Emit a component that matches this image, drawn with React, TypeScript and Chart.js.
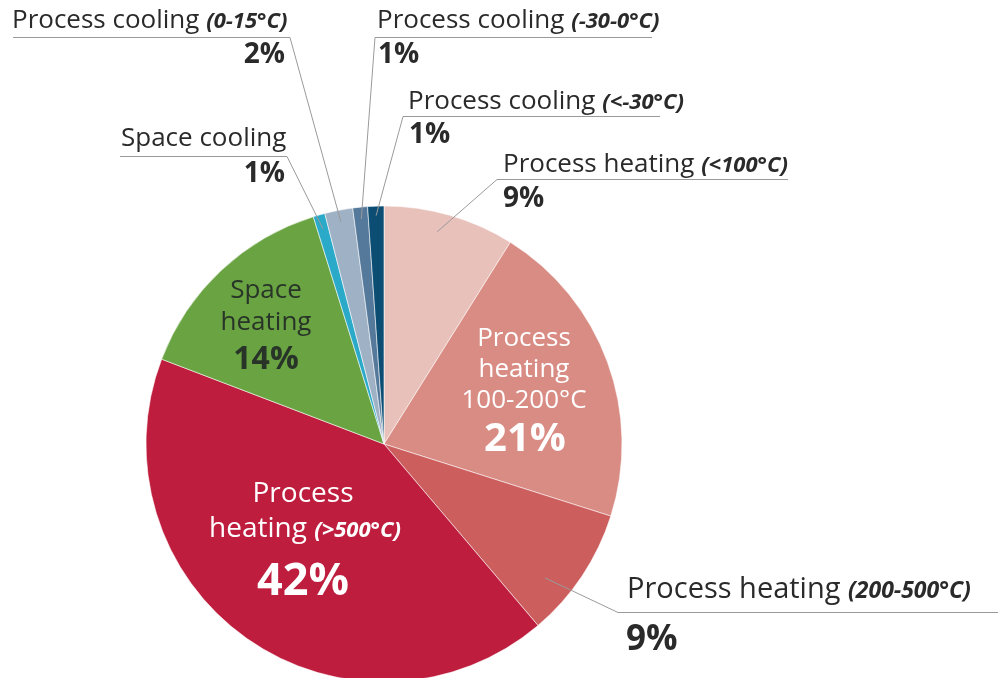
import React, { useEffect, useRef } from 'react';
import { Chart, registerables } from 'chart.js';

Chart.register(...registerables);

const categories = [
  'Process heating (<100°C)',
  'Process heating 100-200°C',
  'Process heating (200-500°C)',
  'Process heating (>500°C)',
  'Space heating',
  'Space cooling',
  'Process cooling (0-15°C)',
  'Process cooling (-30-0°C)',
  'Process cooling (<-30°C)',
];
const shares = [8.9, 21.0, 8.9, 42.0, 14.4, 0.8, 1.9, 1.0, 1.1];
const percentLabels = ['9%', '21%', '9%', '42%', '14%', '1%', '2%', '1%', '1%'];
const sliceColors = ['#e9c1bb', '#d98c84', '#cc5e5e', '#be1d3d', '#6aa442', '#2aa9c9', '#9fb1c5', '#55799b', '#0b4d73'];

const FF = '"Open Sans", sans-serif';
const reg = (s: number) => `${s}px ${FF}`;
const bold = (s: number) => `bold ${s}px ${FF}`;
const bi = (s: number) => `italic bold ${s}px ${FF}`;

type Seg = [string, string];

function drawRich(ctx: CanvasRenderingContext2D, segs: Seg[], x: number, y: number, align: 'left' | 'center' | 'right', color: string) {
  ctx.save();
  ctx.textBaseline = 'alphabetic';
  ctx.textAlign = 'left';
  ctx.fillStyle = color;
  let total = 0;
  const widths = segs.map(([t, f]) => {
    ctx.font = f;
    const w = ctx.measureText(t).width;
    total += w;
    return w;
  });
  let cx = align === 'left' ? x : align === 'center' ? x - total / 2 : x - total;
  segs.forEach(([t, f], i) => {
    ctx.font = f;
    ctx.fillText(t, cx, y);
    cx += widths[i];
  });
  ctx.restore();
}

function splitLabel(label: string, regSize: number, biSize: number): Seg[] {
  const idx = label.indexOf('(');
  if (idx < 0) return [[label, reg(regSize)]];
  return [
    [label.slice(0, idx), reg(regSize)],
    [label.slice(idx), bi(biSize)],
  ];
}

const labelPlugin = {
  id: 'pieLabels',
  afterDatasetsDraw(chart: any) {
    const ctx: CanvasRenderingContext2D = chart.ctx;
    const meta = chart.getDatasetMeta(0);
    const arcs = meta.data;
    const pt = (i: number, t: number, f: number) => {
      const a = arcs[i];
      const m = a.startAngle + (a.endAngle - a.startAngle) * t;
      return [a.x + Math.cos(m) * a.outerRadius * f, a.y + Math.sin(m) * a.outerRadius * f];
    };
    const text = '#2a2a2a';

    // [index, textX, textY, pctAlign, pctX, pctY, lineStartX, lineEndX, lineY, angleFrac, radiusFactor, size, biSize, pctSize]
    const callouts: any[] = [
      [6, 12, 28, 'right', 285, 63, 290, 13, 37, 0.5, 0.95, 26, 22, 28],
      [7, 377, 28, 'left', 378, 63, 375, 652, 37, 0.5, 0.95, 26, 22, 28],
      [8, 408, 109, 'left', 409, 143, 403, 660, 116, 0.5, 0.96, 26, 22, 28],
      [5, 121, 146, 'right', 285, 182, 287, 120, 156, 0.5, 0.94, 26, 22, 28],
      [0, 503, 172, 'left', 503, 207, 497, 788, 179, 0.44, 0.92, 26, 22, 28],
      [2, 627, 598, 'left', 626, 650, 618, 998, 612, 0.69, 0.88, 29, 23, 35],
    ];
    callouts.forEach(([i, tx, ty, pAlign, px, py, ls, le, ly, af, rf, sz, bsz, psz]) => {
      const [ex, ey] = pt(i, af, rf);
      ctx.save();
      ctx.strokeStyle = '#9a9a9a';
      ctx.lineWidth = 1;
      ctx.beginPath();
      ctx.moveTo(le, ly + 0.5);
      ctx.lineTo(ls, ly + 0.5);
      ctx.lineTo(ex, ey);
      ctx.stroke();
      ctx.restore();
      drawRich(ctx, splitLabel(categories[i], sz, bsz), tx, ty, 'left', text);
      drawRich(ctx, [[percentLabels[i], bold(psz)]], px, py, pAlign, text);
    });

    // inside labels
    drawRich(ctx, [['Space', reg(26)]], 266, 298, 'center', '#283428');
    drawRich(ctx, [['heating', reg(26)]], 266, 330, 'center', '#283428');
    drawRich(ctx, [[percentLabels[4], bold(32)]], 266, 369, 'center', '#283428');

    drawRich(ctx, [['Process', reg(26)]], 524, 346, 'center', '#ffffff');
    drawRich(ctx, [['heating', reg(26)]], 524, 377, 'center', '#ffffff');
    drawRich(ctx, [['100-200°C', reg(26)]], 524, 408, 'center', '#ffffff');
    drawRich(ctx, [[percentLabels[1], bold(40)]], 525, 451, 'center', '#ffffff');

    drawRich(ctx, [['Process', reg(28)]], 303, 502, 'center', '#ffffff');
    drawRich(ctx, [['heating ', reg(28)], ['(>500°C)', bi(22)]], 305, 537, 'center', '#ffffff');
    drawRich(ctx, [[percentLabels[3], bold(45)]], 303, 595, 'center', '#ffffff');
  },
};

export default function App() {
  const ref = useRef<HTMLCanvasElement>(null);
  useEffect(() => {
    if (!ref.current) return;
    const chart = new Chart(ref.current, {
      type: 'pie',
      data: {
        labels: categories,
        datasets: [
          {
            data: shares,
            backgroundColor: sliceColors,
            borderColor: 'rgba(255,255,255,0.7)',
            borderWidth: 0.8,
            clip: false as any,
          },
        ],
      },
      options: {
        responsive: false,
        animation: false,
        radius: 238,
        layout: { padding: { left: 146, right: 376, top: 220, bottom: 10 } },
        plugins: { legend: { display: false }, tooltip: { enabled: false } },
      } as any,
      plugins: [labelPlugin],
    });
    return () => chart.destroy();
  }, []);
  return (
    <div style={{ position: 'fixed', left: 0, top: 0, width: 998, height: 678, overflow: 'hidden', background: '#fff' }}>
      <canvas ref={ref} width={998} height={678} style={{ width: 998, height: 678 }} />
    </div>
  );
}
